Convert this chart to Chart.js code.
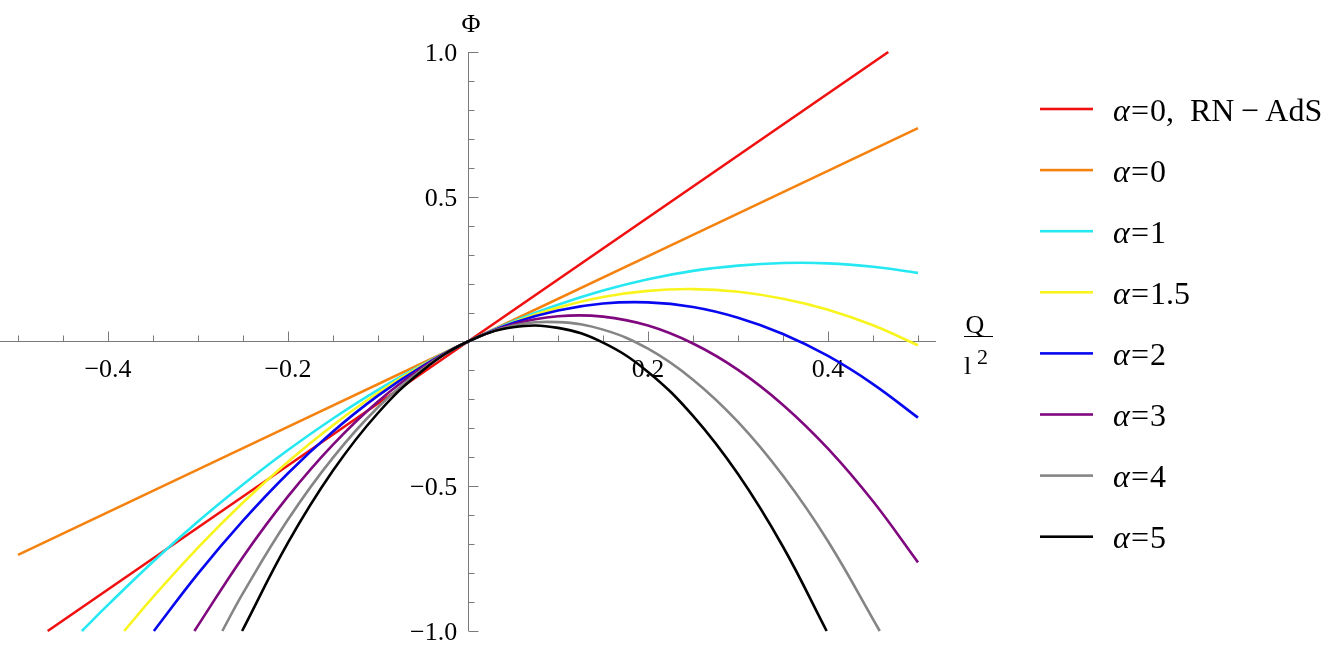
<!DOCTYPE html>
<html>
<head>
<meta charset="utf-8">
<title>Phi vs Q</title>
<script src="https://cdn.jsdelivr.net/npm/chart.js"></script>
<style>
  html, body { margin: 0; padding: 0; background: #fff; }
  canvas { display: block; }
</style>
</head>
<body>
<canvas id="myChart" width="1342" height="653"></canvas>
<script>
// values (Q/l^2 on x, Phi on y)
const seriesLabels = ["α=0, RN−AdS", "α=0", "α=1", "α=1.5", "α=2", "α=3", "α=4", "α=5"];
const seriesColors = ["#f01010", "#f5820f", "#25e8f2", "#f8f51e", "#0808f0", "#80087f", "#858585", "#000000"];

const redQ = [-0.467, 0, 0.467];
const redPhi = [-1.0, 0, 1.0];

const orangeQ = [-0.5, 0, 0.5];
const orangePhi = [-0.737, 0, 0.737];

const cyanQ = [-0.429, -0.4, -0.35, -0.3, -0.25, -0.2, -0.15, -0.1, -0.05, 0, 0.05, 0.1, 0.15, 0.2, 0.25, 0.3, 0.35, 0.4, 0.45, 0.5];
const cyanPhi = [-1.0, -0.910, -0.761, -0.622, -0.494, -0.375, -0.266, -0.167, -0.079, 0, 0.069, 0.127, 0.176, 0.215, 0.244, 0.262, 0.271, 0.270, 0.258, 0.237];

const yellowQ = [-0.382, -0.35, -0.3, -0.25, -0.2, -0.15, -0.1, -0.05, 0, 0.05, 0.1, 0.15, 0.2, 0.25, 0.3, 0.35, 0.4, 0.45, 0.5];
const yellowPhi = [-1.0, -0.883, -0.712, -0.556, -0.415, -0.289, -0.177, -0.081, 0, 0.066, 0.117, 0.154, 0.175, 0.181, 0.172, 0.148, 0.110, 0.056, -0.013];

const blueQ = [-0.349, -0.3, -0.25, -0.2, -0.15, -0.1, -0.05, 0, 0.05, 0.1, 0.15, 0.2, 0.25, 0.3, 0.35, 0.4, 0.45, 0.5];
const bluePhi = [-1.0, -0.802, -0.619, -0.455, -0.311, -0.187, -0.084, 0, 0.064, 0.107, 0.131, 0.135, 0.119, 0.082, 0.026, -0.050, -0.147, -0.263];

const purpleQ = [-0.304, -0.25, -0.2, -0.15, -0.1, -0.05, 0, 0.05, 0.1, 0.15, 0.2, 0.25, 0.3, 0.35, 0.4, 0.45, 0.5];
const purplePhi = [-1.0, -0.744, -0.535, -0.356, -0.207, -0.089, 0, 0.059, 0.087, 0.086, 0.055, -0.007, -0.098, -0.219, -0.370, -0.552, -0.763];

const grayQ = [-0.273, -0.25, -0.2, -0.15, -0.1, -0.05, 0, 0.05, 0.1, 0.15, 0.2, 0.25, 0.3, 0.35, 0.4, 0.4575];
const grayPhi = [-1.0, -0.869, -0.615, -0.401, -0.227, -0.094, 0, 0.054, 0.067, 0.041, -0.025, -0.132, -0.278, -0.464, -0.690, -1.0];

const blackQ = [-0.251, -0.2, -0.15, -0.1, -0.05, 0, 0.05, 0.1, 0.15, 0.2, 0.25, 0.3, 0.35, 0.3985];
const blackPhi = [-1.0, -0.695, -0.446, -0.247, -0.099, 0, 0.049, 0.047, -0.004, -0.105, -0.257, -0.458, -0.709, -1.0];

const xTicks = [-0.4, -0.2, 0.2, 0.4];
const xTickLabels = ["−0.4", "−0.2", "0.2", "0.4"];
const yTicks = [-1.0, -0.5, 0.5, 1.0];
const yTickLabels = ["−1.0", "−0.5", "0.5", "1.0"];

const allQ = [redQ, orangeQ, cyanQ, yellowQ, blueQ, purpleQ, grayQ, blackQ];
const allPhi = [redPhi, orangePhi, cyanPhi, yellowPhi, bluePhi, purplePhi, grayPhi, blackPhi];

const serif = "'Liberation Serif', 'DejaVu Serif', serif";

// mathematica-like axes: line through origin, ticks pointing up / right
const axesPlugin = {
  id: "axesThroughOrigin",
  beforeDatasetsDraw(chart) {
    const { ctx } = chart;
    const x = chart.scales.x;
    const y = chart.scales.y;
    const x0 = Math.round(x.getPixelForValue(0)) + 0.5;
    const y0 = Math.round(y.getPixelForValue(0)) + 0.5;
    ctx.save();
    ctx.strokeStyle = "#7a7a7a";
    ctx.lineWidth = 1;
    ctx.beginPath();
    ctx.moveTo(x.getPixelForValue(-0.52), y0);
    ctx.lineTo(x.getPixelForValue(0.52), y0);
    ctx.moveTo(x0, y.getPixelForValue(-1));
    ctx.lineTo(x0, y.getPixelForValue(1));
    for (let k = -10; k <= 10; k++) {
      if (k === 0) continue;
      const px = Math.round(x.getPixelForValue(k * 0.05)) + 0.5;
      const len = k % 4 === 0 ? 10 : 6;
      ctx.moveTo(px, y0);
      ctx.lineTo(px, y0 - len);
    }
    for (let k = -10; k <= 10; k++) {
      if (k === 0) continue;
      const py = Math.round(y.getPixelForValue(k * 0.1)) + 0.5;
      const len = k % 5 === 0 ? 10 : 6;
      ctx.moveTo(x0, py);
      ctx.lineTo(x0 + len, py);
    }
    ctx.stroke();
    ctx.restore();
  },
  afterDraw(chart) {
    const { ctx } = chart;
    ctx.save();
    ctx.fillStyle = "#000";
    ctx.strokeStyle = "#000";
    // axis labels
    ctx.font = "26px " + serif;
    ctx.textAlign = "center";
    ctx.textBaseline = "alphabetic";
    ctx.fillText("Φ", 471, 32);
    ctx.fillText("Q", 975, 333);
    ctx.lineWidth = 1;
    ctx.beginPath();
    ctx.moveTo(964, 336.5);
    ctx.lineTo(993, 336.5);
    ctx.stroke();
    ctx.textAlign = "left";
    ctx.fillText("l", 964, 374);
    ctx.font = "22px " + serif;
    ctx.fillText("2", 977, 364);

    // legend
    chart.data.datasets.forEach((ds, i) => {
      const ly = 109 + i * 61.1;
      ctx.fillStyle = ds.borderColor;
      ctx.fillRect(1040, ly - 1.3, 53, 2.6);
      const parts = ds.label.split("=");
      ctx.fillStyle = "#000";
      ctx.textAlign = "left";
      ctx.textBaseline = "alphabetic";
      ctx.font = "italic 32px " + serif;
      ctx.fillText(parts[0], 1113, ly + 11.5);
      ctx.font = "32px " + serif;
      ctx.fillText("=", 1131, ly + 11.5);
      ctx.fillText(parts[1].replace(", ", ",\u2002").replace("−", "\u2009−\u2009"), 1150, ly + 11.5);
    });
    ctx.restore();
  }
};

const noEdgePadding = (s) => {
  s.paddingTop = 0;
  s.paddingBottom = 0;
  s.paddingLeft = 0;
  s.paddingRight = 0;
};

const ctx = document.getElementById("myChart").getContext("2d");
const myChart = new Chart(ctx, {
  type: "line",
  data: {
    datasets: seriesLabels.map((label, i) => ({
      label: label,
      data: allQ[i].map((q, k) => ({ x: q, y: allPhi[i][k] })),
      borderColor: seriesColors[i],
      backgroundColor: seriesColors[i],
      borderWidth: 2.6,
      pointRadius: 0,
      tension: 0.4,
      fill: false,
      order: seriesLabels.length - i,
    })),
  },
  options: {
    responsive: false,
    animation: false,
    layout: { padding: { left: 0, right: 406, top: 0, bottom: 0 } },
    plugins: {
      legend: { display: false },
      tooltip: { enabled: false },
    },
    scales: {
      x: {
        type: "linear",
        min: -0.52,
        max: 0.52,
        position: { y: 0 },
        grid: { display: false, drawTicks: false },
        border: { display: false },
        afterFit: noEdgePadding,
        afterBuildTicks: (s) => { s.ticks = xTicks.map((v) => ({ value: v })); },
        ticks: {
          autoSkip: false,
          maxRotation: 0,
          padding: 13,
          color: "#000",
          font: { family: serif, size: 26 },
          callback: (v) => xTickLabels[xTicks.indexOf(v)],
        },
      },
      y: {
        type: "linear",
        min: -1.076,
        max: 1.1796,
        position: { x: -0.012 },
        grid: { display: false, drawTicks: false },
        border: { display: false },
        afterFit: noEdgePadding,
        afterBuildTicks: (s) => { s.ticks = yTicks.map((v) => ({ value: v })); },
        ticks: {
          autoSkip: false,
          labelOffset: 2,
          color: "#000",
          font: { family: serif, size: 26 },
          callback: (v) => yTickLabels[yTicks.indexOf(v)],
        },
      },
    },
  },
  plugins: [axesPlugin],
});
</script>
</body>
</html>
